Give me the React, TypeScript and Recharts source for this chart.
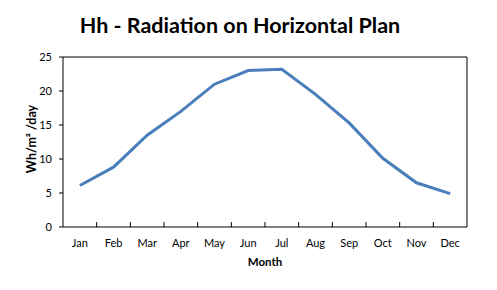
import React from "react";
import { LineChart, Line, XAxis, YAxis } from "recharts";

const months = ["Jan", "Feb", "Mar", "Apr", "May", "Jun", "Jul", "Aug", "Sep", "Oct", "Nov", "Dec"];
const radiation = [6.1, 8.8, 13.5, 17.0, 21.0, 23.0, 23.2, 19.5, 15.3, 10.1, 6.5, 4.9];
const yTicks = [0, 5, 10, 15, 20, 25];

const data = months.map((m, i) => ({ month: m, value: radiation[i] }));

const FONT = "Lato, 'Liberation Sans', sans-serif";
const X_TICK_SIZE = 6;
const X_TICK_MARGIN = 6;

function MonthTick(props: any) {
  const { x, y, payload, index } = props;
  const axisY = y - X_TICK_SIZE - X_TICK_MARGIN;
  const half = payload && payload.offset ? payload.offset : 0;
  return (
    <g>
      {index > 0 && (
        <line x1={x - half} x2={x - half} y1={axisY} y2={axisY - 5} stroke="#000" strokeWidth={1} />
      )}
      <text x={x} y={y} dy="0.71em" textAnchor="middle" fill="#000" fontSize={11} fontFamily={FONT}>
        {payload.value}
      </text>
    </g>
  );
}

export default function App() {
  return (
    <div style={{ position: "absolute", left: 0, top: 0, width: 497, height: 290, background: "#fff", fontFamily: FONT }}>
      <div
        style={{
          position: "absolute",
          left: 0,
          top: 12,
          width: 480,
          textAlign: "center",
          fontSize: 21.5,
          fontWeight: 700,
          color: "#000",
          lineHeight: "26px",
        }}
      >
        Hh - Radiation on Horizontal Plan
      </div>
      <LineChart width={497} height={290} data={data} margin={{ top: 56, right: 29, left: 0, bottom: 62 }}>
        <XAxis
          dataKey="month"
          scale="band"
          height={1}
          tickLine={false}
          tickSize={X_TICK_SIZE}
          tickMargin={X_TICK_MARGIN}
          axisLine={{ stroke: "#000" }}
          tick={<MonthTick />}
          interval={0}
          label={{ value: "Month", position: "bottom", offset: 30, fill: "#000", fontSize: 11.5, fontWeight: 700, fontFamily: FONT }}
        />
        <XAxis
          xAxisId="top"
          orientation="top"
          type="number"
          domain={[0, 12]}
          allowDataOverflow
          height={1}
          tick={false}
          tickLine={false}
          axisLine={{ stroke: "#000" }}
        />
        <YAxis
          domain={[0, 25]}
          ticks={yTicks}
          width={63}
          tickSize={4}
          tickMargin={7}
          axisLine={{ stroke: "#000" }}
          tickLine={{ stroke: "#000" }}
          tick={{ fill: "#000", fontSize: 11, fontFamily: FONT }}
          label={{ value: "Wh/m² /day", angle: -90, position: "center", dy: -3, fill: "#000", fontSize: 12.5, fontWeight: 700, fontFamily: FONT }}
        />
        <YAxis
          yAxisId="right"
          orientation="right"
          domain={[0, 25]}
          width={1}
          tick={false}
          tickLine={false}
          axisLine={{ stroke: "#000" }}
        />
        <Line
          type="linear"
          dataKey="value"
          stroke="#4a7ebb"
          strokeWidth={3}
          dot={false}
          isAnimationActive={false}
        />
      </LineChart>
    </div>
  );
}
